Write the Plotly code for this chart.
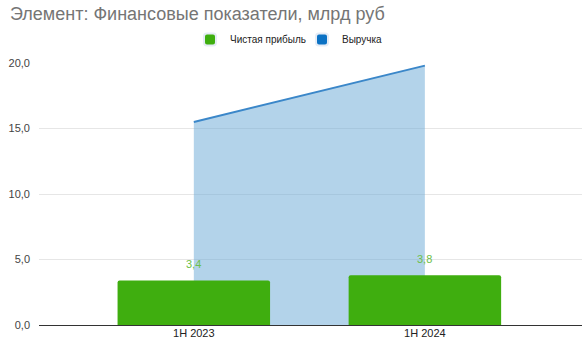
import plotly.graph_objects as go

categories = ["1H 2023", "1H 2024"]
net_profit = [3.4, 3.8]
revenue = [15.5, 19.8]
profit_labels = ["3,4", "3,8"]
y_ticks = [0, 5, 10, 15, 20]
y_tick_labels = ["0,0", "5,0", "10,0", "15,0", "20,0"]

FONT = "Liberation Sans, Arial, sans-serif"
GREEN = "#3fae0f"
BLUE_LINE = "#3b87c9"
BLUE_FILL = "rgba(110,170,215,0.52)"
BLUE_LEG = "#0b72c4"

fig = go.Figure()

fig.add_trace(go.Scatter(
    x=categories, y=revenue, mode="lines", name="Выручка",
    line=dict(color=BLUE_LINE, width=2), fill="tozeroy", fillcolor=BLUE_FILL,
    showlegend=False, hoverinfo="skip", xaxis="x", yaxis="y",
))
fig.add_trace(go.Bar(
    x=categories, y=net_profit, name="Чистая прибыль",
    marker=dict(color=GREEN, line=dict(width=0)), width=0.66,
    showlegend=False, xaxis="x2", yaxis="y2",
))
# legend entries
fig.add_trace(go.Bar(x=[None], y=[None], name="Чистая прибыль",
                     marker=dict(color=GREEN), showlegend=True,
                     xaxis="x2", yaxis="y2"))
fig.add_trace(go.Bar(x=[None], y=[None], name="Выручка",
                     marker=dict(color=BLUE_LEG), showlegend=True,
                     xaxis="x2", yaxis="y2"))

for cat, val, lab in zip(categories, net_profit, profit_labels):
    fig.add_annotation(
        x=cat, y=val, text=lab, showarrow=False, yshift=16,
        font=dict(family=FONT, size=11, color="#6cc04a"),
        xref="x2", yref="y2",
    )

fig.update_layout(
    width=588, height=353,
    margin=dict(l=39, r=6, t=63, b=28, autoexpand=False),
    paper_bgcolor="white", plot_bgcolor="white",
    font=dict(family=FONT, size=11, color="#444"),
    title=dict(text="Элемент: Финансовые показатели, млрд руб",
               x=0.017, xanchor="left", y=0.962, yanchor="middle",
               font=dict(family=FONT, size=18, color="#757575")),
    legend=dict(orientation="h", x=(190 - 39) / 543, xanchor="left", xref="paper",
                y=1.09, yanchor="middle", font=dict(size=10, color="#222"),
                itemsizing="constant", traceorder="normal", itemwidth=30,
                entrywidth=67, entrywidthmode="pixels"),
    barmode="overlay",
    barcornerradius=2,
    separators=", ",
    showlegend=True,
    xaxis=dict(range=[-0.67, 1.68], showgrid=False, showline=False,
               zeroline=False, ticks="", tickfont=dict(color="#222", size=11),
               type="category"),
    xaxis2=dict(range=[-0.67, 1.68], overlaying="x", matches="x",
                showgrid=False, showline=False, zeroline=False,
                showticklabels=False, ticks="", type="category"),
    yaxis=dict(range=[0, 20], tickvals=y_ticks, ticktext=y_tick_labels,
               showgrid=True, gridcolor="#e6e6e6", gridwidth=1,
               zeroline=False, showline=False, ticks="",
               tickfont=dict(color="#444", size=11), ticklabelstandoff=8),
    yaxis2=dict(range=[0, 20], overlaying="y", matches="y",
                tickvals=[0], showgrid=False, showticklabels=False,
                zeroline=True, zerolinecolor="#333", zerolinewidth=1,
                showline=False, ticks=""),
)

fig.write_html("out.html")
